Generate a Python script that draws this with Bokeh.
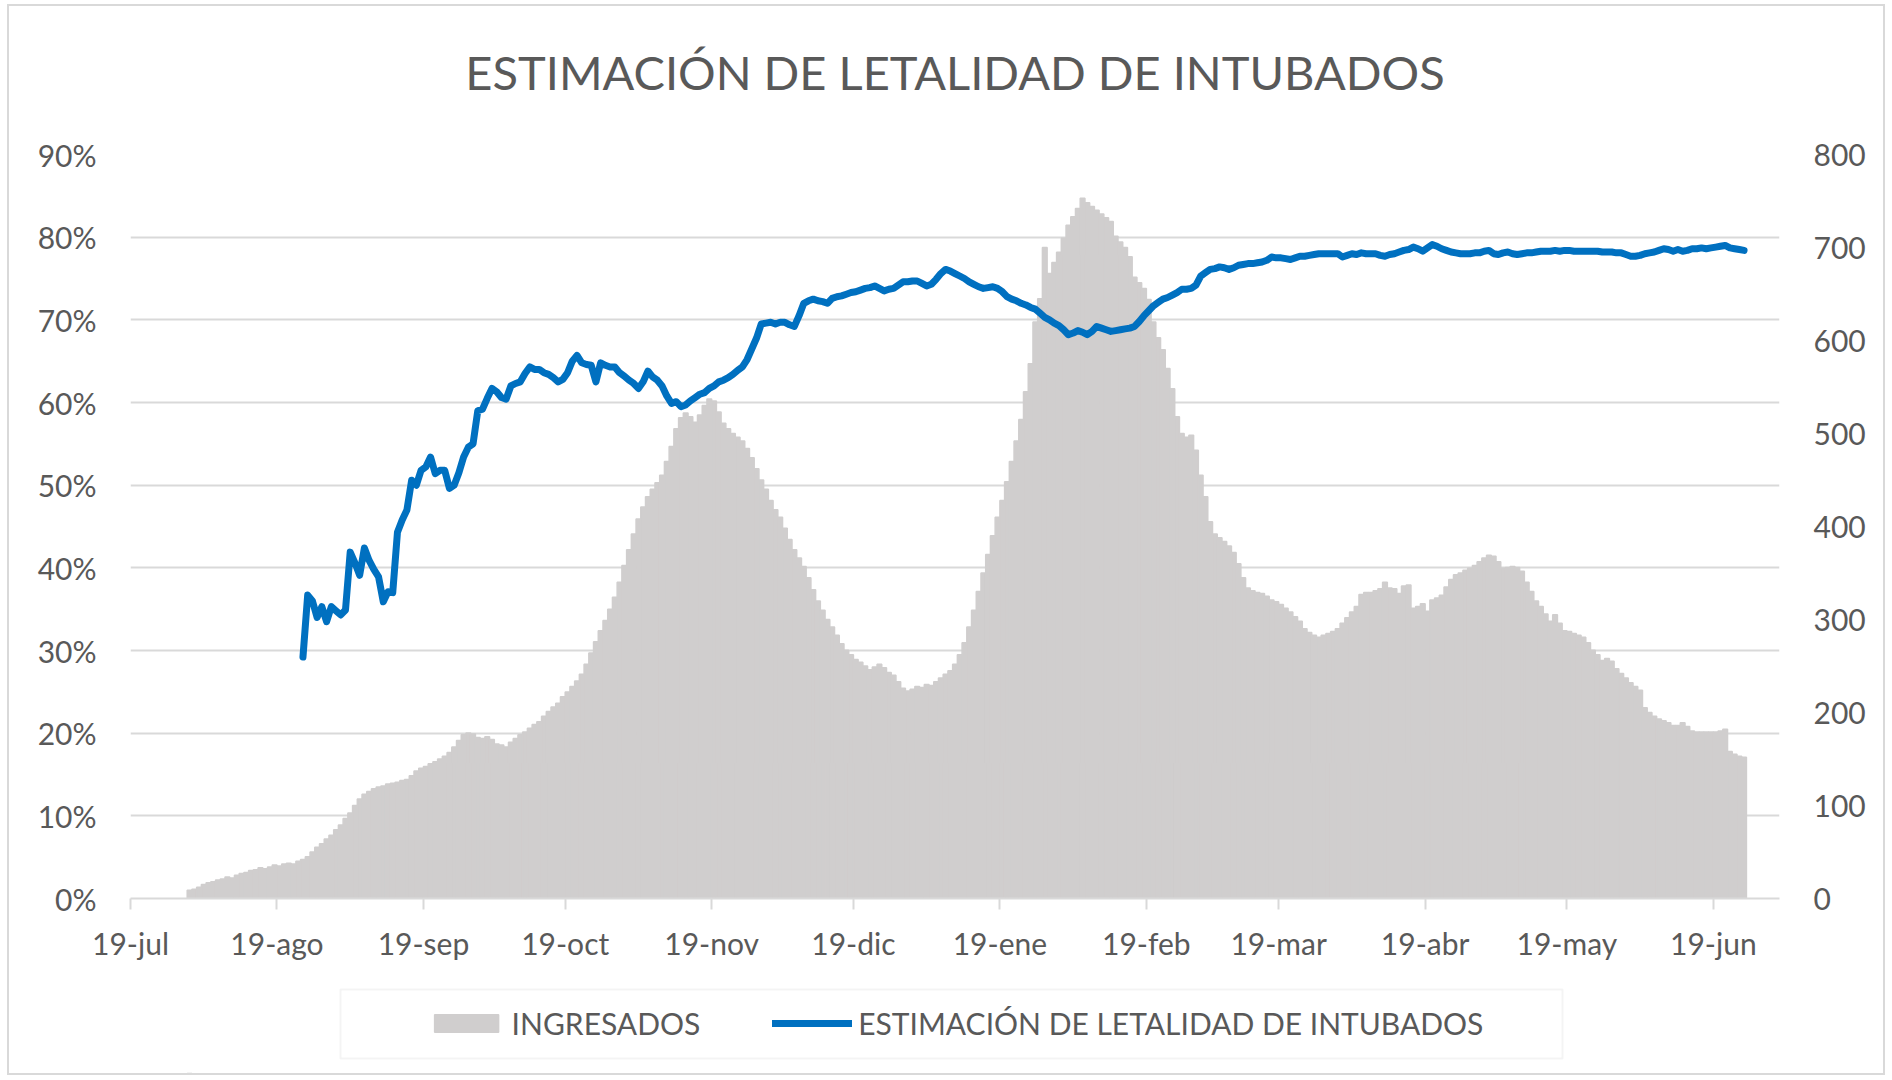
import pandas as pd
from bokeh.plotting import figure
from bokeh.layouts import column
from bokeh.models import (Range1d, LinearAxis, FixedTicker, Legend, LegendItem,
                          Label, BoxAnnotation, ColumnDataSource, CDSView, IndexFilter)
from bokeh.embed import file_html
from bokeh.resources import INLINE

TITLE = "ESTIMACIÓN DE LETALIDAD DE INTUBADOS"
BAR_LABEL = "INGRESADOS"
LINE_LABEL = "ESTIMACIÓN DE LETALIDAD DE INTUBADOS"

tick_dates = ["2020-07-19", "2020-08-19", "2020-09-19", "2020-10-19", "2020-11-19",
              "2020-12-19", "2021-01-19", "2021-02-19", "2021-03-19", "2021-04-19",
              "2021-05-19", "2021-06-19"]
tick_labels = ["19-jul", "19-ago", "19-sep", "19-oct", "19-nov", "19-dic",
               "19-ene", "19-feb", "19-mar", "19-abr", "19-may", "19-jun"]
axis_start = "2020-07-19"
axis_end = "2021-07-03"

pct_ticks = [0, 10, 20, 30, 40, 50, 60, 70, 80, 90]
ing_ticks = [0, 100, 200, 300, 400, 500, 600, 700, 800]

# Daily admissions (right axis), from 2020-07-31
ingresados_start = "2020-07-31"
ingresados = [
    9, 10, 12, 15, 17, 18, 20, 21, 23, 22,
    25, 27, 28, 30, 31, 33, 32, 34, 36, 35,
    37, 38, 37, 40, 42, 45, 50, 55, 59, 64,
    68, 74, 79, 86, 92, 100, 107, 112, 115, 118,
    120, 121, 123, 124, 125, 127, 128, 132, 137, 140,
    142, 145, 147, 150, 153, 157, 163, 170, 176, 178,
    177, 173, 172, 174, 171, 166, 165, 163, 168, 172,
    176, 179, 183, 187, 190, 196, 201, 206, 210, 217,
    222, 228, 234, 241, 252, 264, 276, 288, 299, 311,
    324, 340, 358, 375, 392, 408, 421, 432, 440, 447,
    455, 470, 486, 505, 517, 522, 518, 512, 520, 530,
    537, 535, 523, 511, 505, 500, 496, 492, 484, 474,
    462, 450, 440, 428, 418, 410, 398, 386, 375, 366,
    357, 345, 332, 320, 310, 300, 292, 283, 274, 267,
    262, 257, 254, 250, 246, 249, 252, 248, 243, 240,
    233, 226, 223, 225, 228, 227, 230, 229, 233, 237,
    241, 245, 252, 262, 275, 292, 310, 330, 350, 370,
    390, 410, 428, 448, 470, 492, 515, 545, 575, 620,
    645, 700, 672, 684, 695, 710, 724, 733, 742, 753,
    748, 744, 740, 736, 732, 728, 712, 706, 700, 690,
    668, 662, 656, 644, 620, 603, 590, 570, 548, 518,
    500, 496, 498, 482, 455, 432, 405, 392, 388, 384,
    379, 372, 360, 345, 334, 331, 329, 328, 325, 321,
    319, 316, 312, 308, 303, 298, 290, 286, 283, 281,
    283, 285, 287, 290, 296, 302, 308, 314, 327, 329,
    329, 331, 333, 340, 334, 333, 328, 336, 337, 312,
    314, 317, 309, 321, 323, 326, 335, 343, 348, 350,
    353, 355, 358, 362, 366, 369, 368, 362, 355, 356,
    357, 356, 352, 340, 330, 320, 314, 306, 298, 305,
    296, 288, 287, 285, 283, 281, 275, 267, 262, 256,
    258, 255, 247, 242, 237, 232, 228, 224, 205, 200,
    196, 193, 191, 189, 186, 186, 189, 185, 180, 179,
    179, 179, 179, 179, 180, 182, 158, 155, 153, 152,
]

# Estimated lethality of intubated patients (%), left axis, from 2020-08-24
letalidad_start = "2020-08-24"
letalidad = [
    29.2, 36.7, 36.0, 34.0, 35.3, 33.5, 35.3, 34.8, 34.3, 34.9,
    41.9, 40.6, 39.1, 42.4, 40.9, 39.8, 38.9, 35.9, 37.1, 37.0,
    44.3, 45.8, 47.0, 50.6, 50.0, 51.8, 52.2, 53.4, 51.4, 51.8,
    51.8, 49.6, 50.0, 51.5, 53.4, 54.6, 55.0, 59.0, 59.2, 60.5,
    61.7, 61.3, 60.6, 60.4, 62.0, 62.3, 62.5, 63.5, 64.3, 64.0,
    64.0, 63.6, 63.4, 63.0, 62.5, 62.8, 63.6, 65.0, 65.7, 64.8,
    64.6, 64.5, 62.5, 64.8, 64.5, 64.3, 64.3, 63.6, 63.2, 62.7,
    62.3, 61.7, 62.5, 63.8, 63.1, 62.7, 62.0, 60.8, 59.9, 60.1,
    59.5, 59.7, 60.2, 60.6, 61.0, 61.2, 61.7, 62.0, 62.5, 62.7,
    63.0, 63.4, 63.9, 64.3, 65.2, 66.5, 67.8, 69.5, 69.6, 69.7,
    69.5, 69.7, 69.7, 69.4, 69.2, 70.5, 72.0, 72.3, 72.5, 72.3,
    72.2, 72.0, 72.6, 72.8, 72.9, 73.1, 73.3, 73.4, 73.6, 73.8,
    73.9, 74.1, 73.8, 73.5, 73.7, 73.8, 74.2, 74.6, 74.6, 74.7,
    74.7, 74.4, 74.1, 74.3, 74.9, 75.6, 76.1, 75.9, 75.6, 75.3,
    75.0, 74.6, 74.3, 74.0, 73.8, 73.9, 74.0, 73.8, 73.4, 72.8,
    72.5, 72.3, 72.0, 71.8, 71.5, 71.3, 70.8, 70.3, 70.0, 69.6,
    69.3, 68.8, 68.2, 68.4, 68.7, 68.5, 68.2, 68.6, 69.2, 69.0,
    68.8, 68.6, 68.7, 68.8, 68.9, 69.0, 69.2, 69.8, 70.5, 71.1,
    71.7, 72.1, 72.5, 72.7, 73.0, 73.3, 73.7, 73.7, 73.8, 74.2,
    75.3, 75.7, 76.1, 76.2, 76.4, 76.3, 76.1, 76.3, 76.6, 76.7,
    76.8, 76.8, 76.9, 77.0, 77.2, 77.6, 77.5, 77.5, 77.4, 77.3,
    77.5, 77.7, 77.7, 77.8, 77.9, 78.0, 78.0, 78.0, 78.0, 78.0,
    77.6, 77.8, 78.0, 77.9, 78.1, 78.0, 78.0, 78.0, 77.8, 77.7,
    77.9, 78.0, 78.2, 78.4, 78.5, 78.8, 78.6, 78.3, 78.7, 79.1,
    78.9, 78.6, 78.4, 78.2, 78.1, 78.0, 78.0, 78.0, 78.1, 78.1,
    78.3, 78.4, 78.0, 77.9, 78.1, 78.2, 78.0, 77.9, 78.0, 78.1,
    78.1, 78.2, 78.3, 78.3, 78.3, 78.4, 78.3, 78.4, 78.4, 78.3,
    78.3, 78.3, 78.3, 78.3, 78.3, 78.2, 78.2, 78.2, 78.1, 78.1,
    77.9, 77.7, 77.7, 77.8, 78.0, 78.1, 78.2, 78.4, 78.6, 78.5,
    78.3, 78.5, 78.3, 78.4, 78.6, 78.6, 78.7, 78.6, 78.7, 78.8,
    78.9, 79.0, 78.7, 78.6, 78.5, 78.4,
]

# ---------------------------------------------------------------------------
GRAY_TEXT = "#595959"
GRID = "#D9D9D9"
BAR_COLOR = "#D0CECE"
LINE_COLOR = "#0070C0"
FONT = "Lato"
W = 1874
H_HEAD, H_MAIN, H_LEG = 128, 839, 100
BORDER_L, BORDER_R = 121, 104
FRAME_W = W - BORDER_L - BORDER_R

half_day = pd.Timedelta(hours=12)
bar_dates = pd.date_range(ingresados_start, periods=len(ingresados), freq="D") + half_day
line_dates = pd.date_range(letalidad_start, periods=len(letalidad), freq="D") + half_day

bar_src = ColumnDataSource(dict(x=bar_dates, top=ingresados))
line_src = ColumnDataSource(dict(x=line_dates, y=letalidad))

day_ms = 24 * 3600 * 1000
bar_style = dict(fill_color=BAR_COLOR, line_color=BAR_COLOR, line_width=1.5)
line_style = dict(line_color=LINE_COLOR, line_width=7, line_join="round", line_cap="round")

x_range = Range1d(pd.Timestamp(axis_start), pd.Timestamp(axis_end))
x0_ms = pd.Timestamp(axis_start).value / 1e6
span_ms = pd.Timestamp(axis_end).value / 1e6 - x0_ms


def bare_figure(height, xr, yr):
    f = figure(width=W, height=height, output_backend="svg", toolbar_location=None,
               x_range=xr, y_range=yr, x_axis_location=None, y_axis_location=None,
               min_border_left=BORDER_L, min_border_right=BORDER_R,
               min_border_top=0, min_border_bottom=0)
    f.outline_line_color = None
    f.grid.grid_line_color = None
    f.background_fill_color = "white"
    f.border_fill_color = "white"
    return f


# ---- title strip
head = bare_figure(H_HEAD, Range1d(0, 1), Range1d(0, 1))
head.add_layout(Label(x=0.5, y=1 - 65 / H_HEAD, text=TITLE, text_align="center",
                      text_baseline="middle", text_font=FONT, text_font_size="47px",
                      text_color=GRAY_TEXT))

# ---- main chart
p = figure(width=W, height=H_MAIN, x_axis_type="datetime", output_backend="svg",
           toolbar_location=None, title=None, x_range=x_range, y_range=Range1d(0, 90),
           min_border_left=BORDER_L, min_border_right=BORDER_R,
           min_border_top=20, min_border_bottom=75)
p.extra_y_ranges = {"ing": Range1d(0, 800)}
p.outline_line_color = None

p.vbar(x="x", top="top", width=day_ms, source=bar_src, y_range_name="ing", **bar_style)
p.line(x="x", y="y", source=line_src, **line_style)

tick_ms = [int(pd.Timestamp(d).value // 10**6) for d in tick_dates]
xax = p.xaxis[0]
xax.ticker = FixedTicker(ticks=tick_ms, minor_ticks=[])
xax.major_label_overrides = dict(zip(tick_ms, tick_labels))
xax.axis_line_color = GRID
xax.axis_line_width = 2
xax.major_tick_line_color = GRID
xax.major_tick_line_width = 2
xax.major_tick_out = 11
xax.major_tick_in = 0
xax.minor_tick_line_color = None
xax.major_label_standoff = 15
xax.major_label_text_font = FONT
xax.major_label_text_font_size = "30px"
xax.major_label_text_color = GRAY_TEXT

yax = p.yaxis[0]
yax.ticker = FixedTicker(ticks=pct_ticks, minor_ticks=[])
yax.major_label_overrides = {t: f"{t}%" for t in pct_ticks}
yax.axis_line_color = None
yax.major_tick_line_color = None
yax.minor_tick_line_color = None
yax.major_label_standoff = 28
yax.major_label_text_font = FONT
yax.major_label_text_font_size = "30px"
yax.major_label_text_color = GRAY_TEXT

rax = LinearAxis(y_range_name="ing", ticker=FixedTicker(ticks=ing_ticks, minor_ticks=[]))
rax.axis_line_color = None
rax.major_tick_line_color = None
rax.minor_tick_line_color = None
rax.major_label_standoff = 28
rax.major_label_text_font = FONT
rax.major_label_text_font_size = "30px"
rax.major_label_text_color = GRAY_TEXT
p.add_layout(rax, "right")

p.xgrid.grid_line_color = None
p.ygrid.ticker = yax.ticker
p.ygrid.grid_line_color = GRID
p.ygrid.grid_line_width = 2

# ---- legend strip: same sources/styles as the chart (first point only), drawn
# against a y range far above the data, so only the legend swatches are visible.
leg = bare_figure(H_LEG, Range1d(x0_ms, x0_ms + span_ms), Range1d(5000, 6000))
first_only = CDSView(filter=IndexFilter([0]))
leg_bar = leg.vbar(x="x", top="top", width=day_ms, source=bar_src, view=first_only,
                   **bar_style)
leg_line = leg.line(x="x", y="y", source=line_src, view=CDSView(filter=IndexFilter([0])),
                    **line_style)
legend = Legend(items=[LegendItem(label=BAR_LABEL, renderers=[leg_bar]),
                       LegendItem(label=LINE_LABEL, renderers=[leg_line])],
                orientation="horizontal", location="center",
                label_text_font=FONT, label_text_font_size="30px",
                label_text_color=GRAY_TEXT, glyph_width=80, glyph_height=22,
                label_standoff=6, spacing=72, padding=18, margin=0,
                border_line_color=None, background_fill_alpha=0)
leg.add_layout(legend, "center")


def leg_x(px):   # pixel column in the strip -> x value
    return x0_ms + (px - BORDER_L) / FRAME_W * span_ms


def leg_y(py):   # pixel row from the strip's top -> y value
    return 6000 - py / H_LEG * 1000


leg.add_layout(BoxAnnotation(left=leg_x(331), right=leg_x(1553), top=leg_y(16),
                             bottom=leg_y(85), fill_alpha=0, line_color=GRID,
                             line_width=2, level="overlay"))

layout = column(head, p, leg, spacing=0,
                styles={"border": "2px solid #D9D9D9", "margin": "4px 0 0 7px"})

open("out.html", "w").write(file_html(layout, INLINE))
